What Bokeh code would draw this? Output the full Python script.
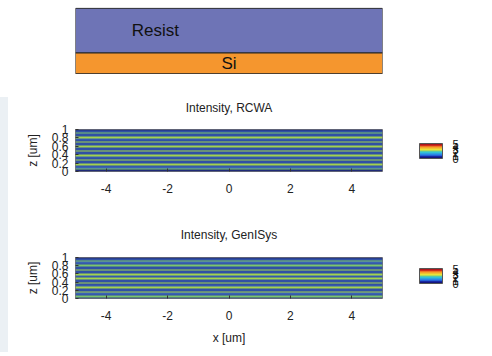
import numpy as np
from bokeh.plotting import figure
from bokeh.models import Range1d, LinearColorMapper, ColorBar, FixedTicker, Div, AllLabels
from bokeh.layouts import column, row
from bokeh.core.properties import value
from bokeh.embed import file_html
from bokeh.resources import INLINE

# ---- data ----
x_min, x_max = -5.0, 5.0
x_ticks = [-4, -2, 0, 2, 4]
x_tick_labels = ["-4", "-2", "0", "2", "4"]
z_ticks = [0, 0.2, 0.4, 0.6, 0.8, 1.0]
z_tick_labels = ["0", "0.2", "0.4", "0.6", "0.8", "1"]
cbar_ticks = [0, 1, 2, 3, 4, 5]

layer_names = ["Si", "Resist"]
layer_thickness = [0.47, 1.0]
layer_colors = ["#f5962e", "#6e74b6"]
layer_label_x = [0.0, -2.4]

# normalized intensity per z-row, from z=0 (bottom) to z=1 (top)
intensity_rcwa = [0.08, 0.72, 0.32, 0.30, 0.80, 0.30, 0.28, 0.82, 0.30, 0.32,
                  0.80, 0.26, 0.30, 0.82, 0.30, 0.28, 0.84, 0.30, 0.30, 0.80,
                  0.26, 0.32, 0.80, 0.30, 0.28, 0.76, 0.22, 0.06]
intensity_genisys = [0.10, 0.75, 0.30, 0.34, 0.82, 0.28, 0.30, 0.80, 0.32, 0.28,
                     0.84, 0.28, 0.30, 0.80, 0.26, 0.32, 0.82, 0.30, 0.28, 0.80,
                     0.30, 0.30, 0.78, 0.28, 0.32, 0.74, 0.24, 0.08]

heat_palette = ["#1f2a78", "#283b8e", "#3050a5", "#3a63b4", "#3f76b8",
                "#3b93b0", "#4fae94", "#7cc56d", "#a3d24e", "#c9dc3c"]
jet_palette = ["#14147d", "#1f3cc8", "#2a86e6", "#32c1d8", "#7ad27a",
               "#e9e33a", "#f5a42a", "#e8471f", "#b0151a"]

FONT = "Liberation Sans"
TXT = "#222222"
W = 476  # figure width (an 8px side strip sits to the left)

# ---- layer diagram ----
total = float(sum(layer_thickness))
tops = list(np.cumsum(layer_thickness))
bottoms = [0.0] + tops[:-1]
mids = [(b + t) / 2 for b, t in zip(bottoms, tops)]

d = figure(width=W, height=74, x_range=Range1d(x_min, x_max),
           y_range=Range1d(-0.012 * total, total * 1.012),
           output_backend="svg", toolbar_location=None,
           min_border_left=67, min_border_right=W - 67 - 310,
           min_border_top=7, min_border_bottom=0)
d.axis.visible = False
d.grid.visible = False
d.outline_line_color = None
d.quad(left=x_min, right=x_max, bottom=bottoms, top=tops, fill_color=layer_colors,
       line_color="#222222", line_width=1)
d.text(x=layer_label_x, y=mids, text=layer_names, text_align="center",
       text_baseline="middle", text_font=value(FONT), text_font_size="17px",
       text_color="#111111")


def heat_fig(title, profile, height, top, bottom, xlabel, cb_y, title_standoff):
    p = figure(width=W, height=height, x_range=Range1d(x_min, x_max),
               y_range=Range1d(0, 1), title=title,
               output_backend="svg", toolbar_location=None,
               min_border_left=65, min_border_right=W - 65 - 309,
               min_border_top=top, min_border_bottom=bottom)
    p.title.align = "center"
    p.title.text_font = FONT
    p.title.text_font_size = "12px"
    p.title.text_font_style = "normal"
    p.title.text_color = TXT
    p.title.standoff = title_standoff
    p.grid.visible = False
    p.outline_line_color = "#777777"

    arr = np.tile(np.array(profile, dtype=float)[:, None], (1, 2))
    mapper = LinearColorMapper(palette=heat_palette, low=0, high=1)
    p.image(image=[arr], x=x_min, y=0, dw=x_max - x_min, dh=1, color_mapper=mapper)

    for ax in (p.xaxis[0], p.yaxis[0]):
        ax.axis_line_color = None
        ax.major_tick_in = 3
        ax.major_tick_out = 0
        ax.minor_tick_line_color = None
        ax.major_tick_line_color = "#333333"
        ax.major_label_text_font = FONT
        ax.major_label_text_font_size = "12px"
        ax.major_label_text_color = TXT
        ax.axis_label_text_font = FONT
        ax.axis_label_text_font_size = "12px"
        ax.axis_label_text_font_style = "normal"
        ax.axis_label_text_color = TXT
        ax.major_label_policy = AllLabels()
    p.xaxis.ticker = FixedTicker(ticks=x_ticks)
    p.xaxis.major_label_overrides = {t: l for t, l in zip(x_ticks, x_tick_labels)}
    p.xaxis.major_label_standoff = 12
    p.xaxis.axis_label_standoff = 8
    if xlabel:
        p.xaxis.axis_label = xlabel
    p.yaxis.ticker = FixedTicker(ticks=z_ticks)
    p.yaxis.major_label_overrides = {t: l for t, l in zip(z_ticks, z_tick_labels)}
    p.yaxis.major_label_standoff = 7
    p.yaxis.axis_label = "z [um]"
    p.yaxis.axis_label_standoff = 9

    jet = LinearColorMapper(palette=jet_palette, low=cbar_ticks[0], high=cbar_ticks[-1])
    cb = ColorBar(color_mapper=jet, ticker=FixedTicker(ticks=cbar_ticks),
                  orientation="vertical", width=23, height=15, location=(344, cb_y),
                  padding=0, margin=0, label_standoff=10,
                  major_label_text_font=FONT, major_label_text_font_size="11px",
                  major_label_text_color="#111111", major_label_policy=AllLabels(),
                  major_tick_line_color=None, minor_tick_line_color=None,
                  bar_line_color="#555555", border_line_color=None,
                  background_fill_color=None)
    p.add_layout(cb)
    return p


p1 = heat_fig("Intensity, RCWA", intensity_rcwa, 134, 55, 37, None, 13, 29)
p2 = heat_fig("Intensity, GenISys", intensity_genisys, 144, 49, 54, "x [um]", 15, 32)

strip = Div(text='<div style="margin-top:97px;height:255px;width:8px;background:#ebf0f4"></div>',
            width=8, height=352, margin=0)
p = row(strip, column(d, p1, p2, spacing=0), spacing=0)
open("out.html", "w").write(file_html(p, INLINE))
